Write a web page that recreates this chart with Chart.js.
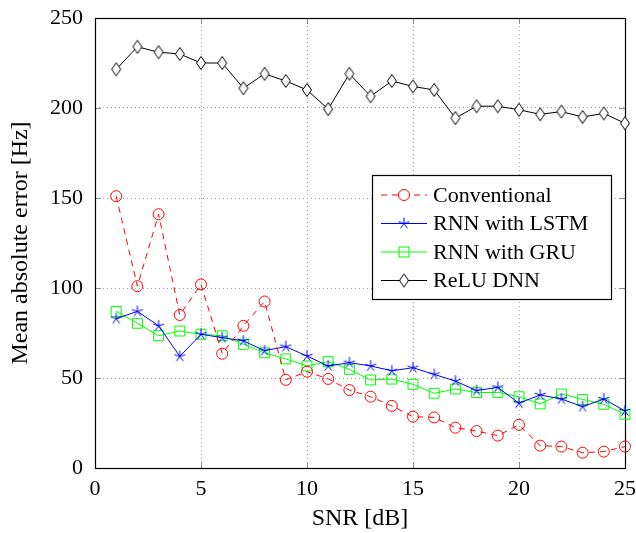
<!DOCTYPE html>
<html>
<head>
<meta charset="utf-8">
<script src="https://cdn.jsdelivr.net/npm/chart.js@4.4.1/dist/chart.umd.min.js"></script>
<style>
  html, body { margin: 0; padding: 0; background: #fff; }
  #wrap { width: 636px; height: 533px; }
</style>
</head>
<body>
<div id="wrap"><canvas id="chart" width="636" height="533"></canvas></div>
<script>
const CHART = document.getElementById("chart");
const FONT = "'Liberation Serif', 'DejaVu Serif', serif";

// SNR values (x axis)
var snr = [1,2,3,4,5,6,7,8,9,10,11,12,13,14,15,16,17,18,19,20,21,22,23,24,25];

var conventional = [151,101,141,85,102,63.5,79,92.5,49,53.5,49.5,43.3,39.6,34.5,28.5,28.1,22.4,20.5,18,24,12.4,11.9,8.5,9.1,11.9];
var lstm = [83,87,79,62,74.3,72.4,70.6,65.2,67.4,62.2,56.7,58.5,56.7,54,55.7,52,48.3,43,44.8,36,40.6,38.3,34.1,38.3,31.7];
var gru = [87,80.4,73.5,76.1,74.3,73.5,68.7,64,60.6,56.7,59.1,54.8,48.9,49.4,46.5,41.5,43.9,41.9,42,39.6,35.6,41.1,38.1,35.4,29.8];
var relu = [221.5,234,231,230,225,225,211,219,215,210,199.4,219,206.5,215,212,210,194.4,201,201,199,196.5,198,195,197,191.5];

var seriesNames = ['Conventional', 'RNN with LSTM', 'RNN with GRU', 'ReLU DNN'];
var xTicks = [0,5,10,15,20,25];
var yTicks = [0,50,100,150,200,250];

function pts(vals) {
    return vals.map(function (v, i) { return {x: snr[i], y: v}; });
}

// pgfplots-like marks
function starImg(color) {
    var c = document.createElement('canvas');
    c.width = 14; c.height = 14;
    var g = c.getContext('2d');
    g.strokeStyle = color;
    g.lineWidth = 1;
    g.beginPath();
    for (let k = 0; k < 5; k++) {
        var a = -Math.PI / 2 + k * 2 * Math.PI / 5;
        g.moveTo(7, 7);
        g.lineTo(7 + 5.8 * Math.cos(a), 7 + 5.8 * Math.sin(a));
    }
    g.stroke();
    return c;
}
function diamondImg() {
    var c = document.createElement('canvas');
    c.width = 12; c.height = 16;
    var g = c.getContext('2d');
    g.beginPath();
    g.moveTo(6, 1.5); g.lineTo(10.5, 8); g.lineTo(6, 14.5); g.lineTo(1.5, 8);
    g.closePath();
    g.fillStyle = '#ffffff';
    g.fill();
    g.strokeStyle = '#000000';
    g.lineWidth = 1;
    g.stroke();
    return c;
}
var STAR = starImg('#0000ff');
var DIAMOND = diamondImg();

// frame, inward ticks and the legend inside the plot
const framePlugin = {
    id: 'frame',
    beforeDatasetsDraw(chart) {
        const ctx = chart.ctx, a = chart.chartArea;
        const xs = chart.scales.x, ys = chart.scales.y;
        ctx.save();
        ctx.strokeStyle = '#8c8c8c';
        ctx.lineWidth = 1;
        ctx.beginPath();
        xTicks.forEach(function (t) {
            var px = Math.round(xs.getPixelForValue(t)) + 0.5;
            ctx.moveTo(px, a.bottom); ctx.lineTo(px, a.bottom - 6);
            ctx.moveTo(px, a.top); ctx.lineTo(px, a.top + 6);
        });
        yTicks.forEach(function (t) {
            var py = Math.round(ys.getPixelForValue(t)) + 0.5;
            ctx.moveTo(a.left, py); ctx.lineTo(a.left + 6, py);
            ctx.moveTo(a.right, py); ctx.lineTo(a.right - 6, py);
        });
        ctx.stroke();
        ctx.strokeStyle = '#000000';
        ctx.lineWidth = 1.2;
        ctx.strokeRect(Math.round(a.left) + 0.5, Math.round(a.top) + 0.5,
            Math.round(a.right - a.left), Math.round(a.bottom - a.top));
        ctx.restore();
    },
    afterDraw(chart) {
        const ctx = chart.ctx, a = chart.chartArea;
        const bx = a.right - 253, by = a.top + 157, bw = 239, bh = 124;
        ctx.save();
        ctx.fillStyle = '#ffffff';
        ctx.fillRect(bx, by, bw, bh);
        ctx.strokeStyle = '#000000';
        ctx.lineWidth = 1.2;
        ctx.strokeRect(bx + 0.5, by + 0.5, bw, bh);
        ctx.font = '22px ' + FONT;
        ctx.textBaseline = 'middle';
        chart.data.datasets.forEach(function (ds, i) {
            var y = by + 20 + i * 28.5;
            var x0 = bx + 9, x1 = bx + 55, xm = bx + 32;
            ctx.strokeStyle = ds.borderColor;
            ctx.lineWidth = ds.borderWidth;
            ctx.setLineDash(ds.borderDash || []);
            ctx.beginPath();
            ctx.moveTo(x0, y); ctx.lineTo(x1, y);
            ctx.stroke();
            ctx.setLineDash([]);
            if (ds.pointStyle instanceof HTMLCanvasElement) {
                ctx.drawImage(ds.pointStyle, xm - ds.pointStyle.width / 2, y - ds.pointStyle.height / 2);
            } else if (ds.pointStyle === 'circle') {
                ctx.fillStyle = '#ffffff';
                ctx.beginPath();
                ctx.arc(xm, y, ds.pointRadius, 0, 2 * Math.PI);
                ctx.fill();
                ctx.strokeStyle = ds.pointBorderColor;
                ctx.stroke();
            } else {
                var s = ds.pointRadius * Math.SQRT1_2;
                ctx.strokeStyle = ds.pointBorderColor;
                ctx.strokeRect(xm - s, y - s, 2 * s, 2 * s);
            }
            ctx.fillStyle = '#000000';
            ctx.fillText(ds.label, bx + 61, y + 1);
        });
        ctx.restore();
    }
};

const chart = new Chart(CHART, {
    type: 'line',
    plugins: [framePlugin],
    data: {
        datasets: [
            {
                label: seriesNames[0],
                data: pts(conventional),
                borderColor: '#ff0000',
                borderWidth: 1,
                borderDash: [6, 5],
                pointStyle: 'circle',
                pointRadius: 5.5,
                pointBorderColor: '#ff0000',
                pointBackgroundColor: 'rgba(0,0,0,0)',
                pointBorderWidth: 1,
                clip: false
            },
            {
                label: seriesNames[1],
                data: pts(lstm),
                borderColor: '#0000ff',
                borderWidth: 1,
                pointStyle: STAR,
                pointRadius: 6,
                clip: false
            },
            {
                label: seriesNames[2],
                data: pts(gru),
                borderColor: '#00ff00',
                borderWidth: 1,
                pointStyle: 'rect',
                pointRadius: 7,
                pointBorderColor: '#00ff00',
                pointBackgroundColor: 'rgba(0,0,0,0)',
                pointBorderWidth: 1,
                clip: false
            },
            {
                label: seriesNames[3],
                data: pts(relu),
                borderColor: '#000000',
                borderWidth: 1,
                pointStyle: DIAMOND,
                pointRadius: 6,
                clip: false
            }
        ]
    },
    options: {
        responsive: false,
        animation: false,
        events: [],
        layout: { padding: { left: 0, top: 18, right: 11, bottom: 0 } },
        plugins: {
            legend: { display: false },
            tooltip: { enabled: false }
        },
        scales: {
            x: {
                type: 'linear',
                min: 0, max: 25,
                afterBuildTicks: function (s) { s.ticks = xTicks.map(function (v) { return {value: v}; }); },
                afterFit: function (s) { s.height = 65; s.paddingLeft = 0; s.paddingRight = 0; },
                grid: { color: '#a0a0a0', lineWidth: 1, drawTicks: false },
                border: { display: false, dash: [1, 3] },
                ticks: { color: '#000', padding: 8, font: { family: FONT, size: 22 }, maxRotation: 0 },
                title: { display: true, text: 'SNR [dB]', color: '#000', font: { family: FONT, size: 24 }, padding: { top: 2, bottom: 0 } }
            },
            y: {
                min: 0, max: 250,
                afterBuildTicks: function (s) { s.ticks = yTicks.map(function (v) { return {value: v}; }); },
                afterFit: function (s) { s.width = 95; s.paddingTop = 0; s.paddingBottom = 0; },
                grid: { color: '#a0a0a0', lineWidth: 1, drawTicks: false },
                border: { display: false, dash: [1, 3] },
                ticks: { color: '#000', padding: 12, font: { family: FONT, size: 22 } },
                title: { display: true, text: 'Mean absolute error [Hz]', color: '#000', font: { family: FONT, size: 24 }, padding: { top: 6, bottom: 0 } }
            }
        }
    }
});
</script>
</body>
</html>
